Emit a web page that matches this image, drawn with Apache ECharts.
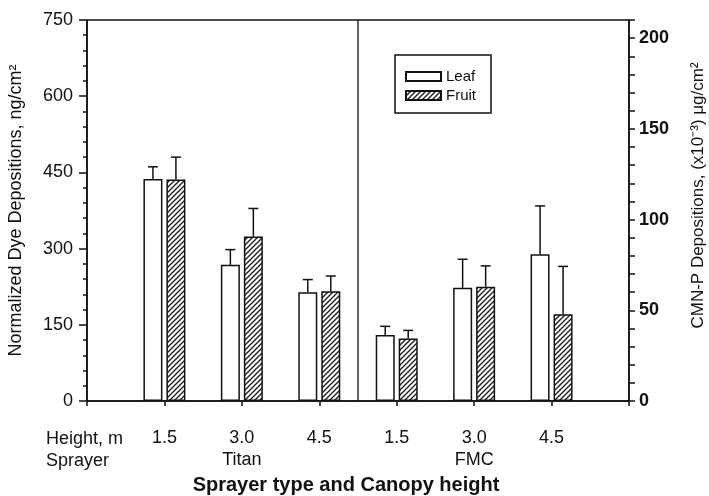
<!DOCTYPE html>
<html><head><meta charset="utf-8">
<script src="https://cdn.jsdelivr.net/npm/echarts@6/dist/echarts.min.js"></script>
<style>html,body{margin:0;padding:0;background:#fff}#c{width:709px;height:496px}</style>
</head><body><div id="c"></div>
<script>
// ---- data ----
const categories   = ['', 'Titan 1.5', 'Titan 3.0', 'Titan 4.5', 'FMC 1.5', 'FMC 3.0', 'FMC 4.5', ''];
const heightLabels = ['', '1.5', '3.0', '4.5', '1.5', '3.0', '4.5', ''];
const sprayerLabels = ['', '', 'Titan', '', '', 'FMC', '', ''];
const leafValues   = [null, 437, 268, 214, 130, 223, 289, null];
const fruitValues  = [null, 436, 324, 216, 123, 225, 171, null];
const leafErrTop   = [null, 461, 298, 239, 147, 279, 384, null];
const fruitErrTop  = [null, 480, 379, 246, 139, 266, 265, null];
const leftTicks  = {min: 0, max: 750, interval: 150};
const rightTicks = {min: 0, max: 210, interval: 10, labelEvery: 50};
const dividerBetween = [3, 4];

const FONT = '"Liberation Sans", Arial, Helvetica, sans-serif';
const INK = '#111';

function hatch() {
  const c = document.createElement('canvas'); c.width = 5; c.height = 5;
  const g = c.getContext('2d');
  g.fillStyle = '#fff'; g.fillRect(0, 0, 5, 5);
  g.strokeStyle = '#1a1a1a'; g.lineWidth = 1.3;
  g.beginPath();
  g.moveTo(-1, 6); g.lineTo(6, -1);
  g.moveTo(-1, 1); g.lineTo(1, -1);
  g.moveTo(4, 6); g.lineTo(6, 4);
  g.stroke();
  return c;
}

const errData = [];
categories.forEach((c, i) => {
  if (leafValues[i] != null) errData.push([i, leafValues[i], leafErrTop[i], -1]);
  if (fruitValues[i] != null) errData.push([i, fruitValues[i], fruitErrTop[i], 1]);
});

const chart = echarts.init(document.getElementById('c'), null, {renderer: 'canvas'});
chart.setOption({
  animation: false,
  backgroundColor: '#fff',
  textStyle: {fontFamily: FONT, color: INK},
  grid: {left: 87, right: 80, top: 20, bottom: 95, containLabel: false, outerBoundsMode: 'none',
    show: true, borderColor: INK, borderWidth: 1.5, backgroundColor: 'transparent'},
  legend: {
    data: ['Leaf', 'Fruit'], orient: 'vertical', left: 395, top: 55,
    itemWidth: 35, itemHeight: 9, itemGap: 4, icon: 'rect',
    borderColor: INK, borderWidth: 1.5, padding: [14, 15, 10, 10],
    textStyle: {fontSize: 15, color: INK, fontFamily: FONT}
  },
  xAxis: {
    type: 'category', data: categories, boundaryGap: false,
    axisLine: {lineStyle: {color: INK, width: 1.5}},
    axisTick: {show: true, interval: 0, length: 5, lineStyle: {color: INK, width: 1.5}},
    axisLabel: {
      interval: 0, margin: 26, color: INK,
      formatter: (v, i) => '{h|' + (heightLabels[i] || ' ') + '}\n{s|' + (sprayerLabels[i] || ' ') + '}',
      rich: {h: {fontSize: 18, lineHeight: 22, fontFamily: FONT, color: INK}, s: {fontSize: 18, lineHeight: 22, fontFamily: FONT, color: INK}}
    },
    name: 'Sprayer type and Canopy height', nameLocation: 'middle', nameGap: 74,
    nameTextStyle: {fontSize: 20, fontWeight: 'bold', color: INK, fontFamily: FONT, padding: [0, 24, 0, 0]},
    splitLine: {show: false}
  },
  yAxis: [
    {
      type: 'value', position: 'left', min: leftTicks.min, max: leftTicks.max, interval: leftTicks.interval,
      axisLine: {show: true, lineStyle: {color: INK, width: 1.5}},
      axisTick: {show: true, length: 8, lineStyle: {color: INK, width: 1.5}},
      minorTick: {show: true, splitNumber: 5, length: 4, lineStyle: {color: INK, width: 1.5}},
      axisLabel: {fontSize: 18, margin: 14, color: INK, fontFamily: FONT},
      splitLine: {show: false},
      name: 'Normalized Dye Depositions, ng/cm²', nameLocation: 'middle', nameGap: 62,
      nameTextStyle: {fontSize: 18, color: INK, fontFamily: FONT}
    },
    {
      type: 'value', position: 'right', min: rightTicks.min, max: rightTicks.max, interval: rightTicks.interval,
      axisLine: {show: true, lineStyle: {color: INK, width: 1.5}},
      axisTick: {show: true, length: 6, lineStyle: {color: INK, width: 1.5}},
      axisLabel: {fontSize: 18, fontWeight: 'bold', margin: 10, color: INK, fontFamily: FONT,
        formatter: v => (v % rightTicks.labelEvery === 0 ? String(v) : '')},
      splitLine: {show: false},
      name: 'CMN-P Depositions, (x10⁻³) μg/cm²', nameLocation: 'middle', nameGap: 61,
      nameTextStyle: {fontSize: 17, color: INK, fontFamily: FONT, padding: [0, 0, 0, 30]}
    }
  ],
  graphic: [
    {type: 'text', left: 46, top: 430, style: {text: 'Height, m', font: '18px ' + FONT, fill: INK}},
    {type: 'text', left: 46, top: 452, style: {text: 'Sprayer', font: '18px ' + FONT, fill: INK}}
  ],
  series: [
    {
      name: 'Leaf', type: 'bar', data: leafValues, barWidth: 19, barGap: '21%',
      itemStyle: {color: '#fff', borderColor: INK, borderWidth: 1.5}
    },
    {
      name: 'Fruit', type: 'bar', data: fruitValues, barWidth: 19, barGap: '21%',
      itemStyle: {color: {image: hatch(), repeat: 'repeat'}, borderColor: INK, borderWidth: 1.5}
    },
    {
      name: 'err', type: 'custom', data: errData, z: 5,
      renderItem: (params, api) => {
        const p = api.coord([api.value(0), api.value(1)]);
        const q = api.coord([api.value(0), api.value(2)]);
        const x = p[0] + api.value(3) * 11.5;
        const st = {stroke: INK, lineWidth: 1.5};
        return {type: 'group', children: [
          {type: 'line', shape: {x1: x, y1: p[1], x2: x, y2: q[1]}, style: st},
          {type: 'line', shape: {x1: x - 5, y1: q[1], x2: x + 5, y2: q[1]}, style: st}
        ]};
      }
    },
    {
      name: 'divider', type: 'custom', data: [dividerBetween], z: 5,
      renderItem: (params, api) => {
        const a = api.coord([api.value(0), leftTicks.min]);
        const b = api.coord([api.value(1), leftTicks.max]);
        const x = (a[0] + b[0]) / 2;
        return {type: 'line', shape: {x1: x, y1: a[1], x2: x, y2: b[1]}, style: {stroke: INK, lineWidth: 1.3}};
      }
    }
  ]
});
</script>
</body></html>
